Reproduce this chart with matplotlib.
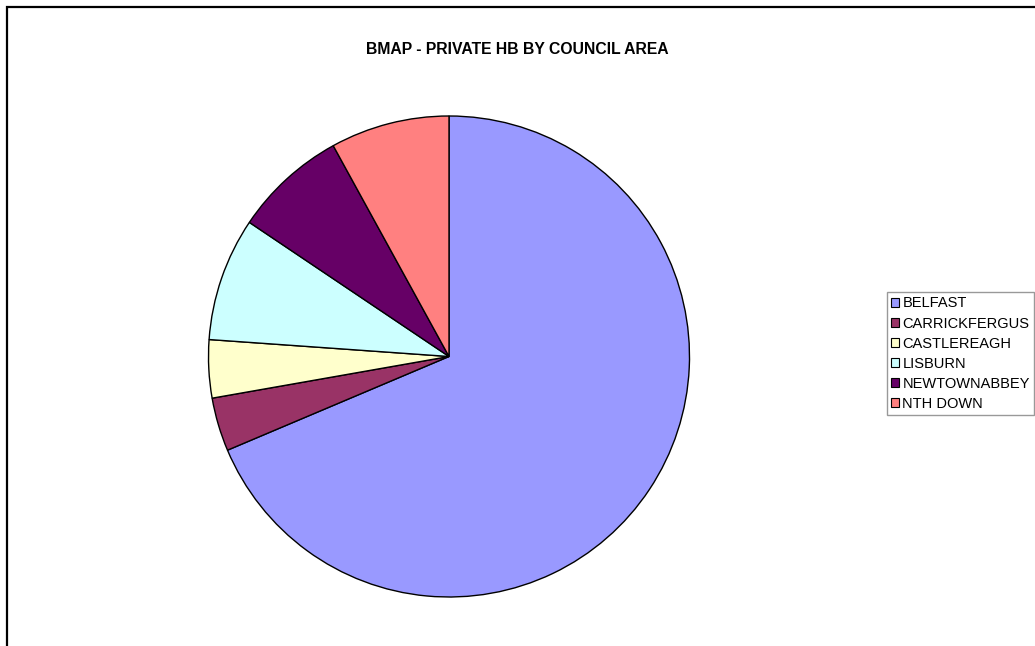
import matplotlib.pyplot as plt
from matplotlib.patches import Patch, Rectangle

plt.rcParams["font.family"] = ["Liberation Sans", "DejaVu Sans"]

# slice shares (percent of total)
councils = ["BELFAST", "CARRICKFERGUS", "CASTLEREAGH", "LISBURN", "NEWTOWNABBEY", "NTH DOWN"]
shares = [68.7, 3.6, 3.9, 8.3, 7.6, 8.0]
colors = ["#9999FF", "#993366", "#FFFFCC", "#CCFFFF", "#660066", "#FF8080"]

W, H = 1035, 646
fig = plt.figure(figsize=(W / 100, H / 100), dpi=100)
fig.patch.set_facecolor("white")

# outer chart frame, runs off right and bottom edges
fig.patches.append(Rectangle((7 / W, -0.05), 1.1, 1 - 7 / H + 0.05, transform=fig.transFigure,
                             fill=False, edgecolor="black", linewidth=1.6))

cx, cy, r = 449, H - 356.5, 240.5
ax = fig.add_axes([(cx - r) / W, (cy - r) / H, 2 * r / W, 2 * r / H])
ax.pie(shares, colors=colors, startangle=90, counterclock=False,
       wedgeprops=dict(edgecolor="black", linewidth=1.0))
ax.set_xlim(-1, 1)
ax.set_ylim(-1, 1)
ax.set_aspect("equal")
ax.axis("off")

fig.text(517 / W, 1 - 50 / H, "BMAP - PRIVATE HB BY COUNCIL AREA", ha="center", va="center",
         fontsize=11.3, fontweight="bold")

handles = [Patch(facecolor=c, edgecolor="black", linewidth=0.8) for c in colors]
leg = fig.legend(handles, councils, loc="upper left", bbox_to_anchor=(887 / W, 1 - 292 / H),
                 fontsize=10.5, frameon=True, fancybox=False, handlelength=0.55, handleheight=0.55,
                 handletextpad=0.2, borderpad=0.3, borderaxespad=0, labelspacing=0.42)
leg.get_frame().set_edgecolor("#808080")
leg.get_frame().set_linewidth(1.0)

fig.savefig("out.png", dpi=100)
